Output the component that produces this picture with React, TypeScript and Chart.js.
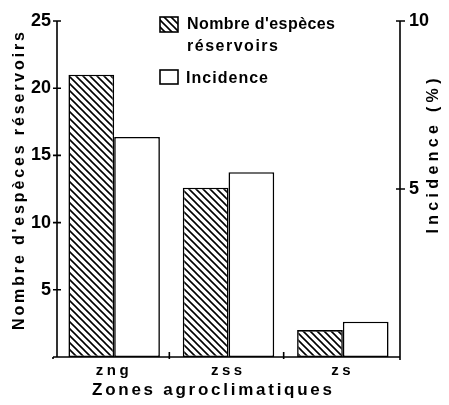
import React, { useEffect, useRef } from "react";
import { Chart, registerables } from "chart.js";

Chart.register(...registerables);

const categories = ["zng", "zss", "zs"];
const especesValues = [21, 12.6, 2];
const incidenceValues = [6.55, 5.5, 1.05];
const leftTickValues = [5, 10, 15, 20, 25];
const rightTickValues = [5, 10];
const leftTitle = "Nombre d'espèces réservoirs";
const rightTitle = "Incidence (%)";
const xTitle = "Zones agroclimatiques";
const legendLines1 = ["Nombre d'espèces", "réservoirs"];
const legendLine2 = "Incidence";

const FONT = "'Liberation Sans', Arial, Helvetica, sans-serif";

function makeHatch(): CanvasPattern | string {
  const c = document.createElement("canvas");
  const p = 7;
  c.width = p;
  c.height = p;
  const g = c.getContext("2d");
  if (!g) return "#fff";
  g.fillStyle = "#fff";
  g.fillRect(0, 0, p, p);
  g.strokeStyle = "#000";
  g.lineWidth = 1.6;
  g.beginPath();
  g.moveTo(-1, -1);
  g.lineTo(p + 1, p + 1);
  g.moveTo(-1, p - 1);
  g.lineTo(1, p + 1);
  g.moveTo(p - 1, -1);
  g.lineTo(p + 1, 1);
  g.stroke();
  const pat = g.createPattern(c, "repeat");
  return pat || "#fff";
}

function fitText(
  ctx: CanvasRenderingContext2D,
  text: string,
  x: number,
  y: number,
  font: string,
  width: number,
  align: "left" | "center"
) {
  ctx.save();
  ctx.font = font;
  (ctx as any).letterSpacing = "0px";
  const w0 = ctx.measureText(text).width;
  const n = Array.from(text).length;
  const sp = n > 1 ? (width - w0) / (n - 1) : 0;
  (ctx as any).letterSpacing = sp + "px";
  ctx.textAlign = "left";
  ctx.textBaseline = "alphabetic";
  ctx.fillStyle = "#000";
  const sx = align === "center" ? x - width / 2 : x;
  ctx.fillText(text, sx, y);
  ctx.restore();
}

function spacedText(
  ctx: CanvasRenderingContext2D,
  text: string,
  cx: number,
  y: number,
  font: string,
  sp: number
) {
  ctx.save();
  ctx.font = font;
  (ctx as any).letterSpacing = "0px";
  const w0 = ctx.measureText(text).width;
  const n = Array.from(text).length;
  const w = w0 + sp * (n - 1);
  (ctx as any).letterSpacing = sp + "px";
  ctx.textAlign = "left";
  ctx.textBaseline = "alphabetic";
  ctx.fillStyle = "#000";
  ctx.fillText(text, cx - w / 2, y);
  ctx.restore();
}

export default function App() {
  const ref = useRef<HTMLCanvasElement | null>(null);

  useEffect(() => {
    const canvas = ref.current;
    if (!canvas) return;
    const hatch = makeHatch();

    const decor = {
      id: "decor",
      afterDatasetsDraw(chart: any) {
        const ctx: CanvasRenderingContext2D = chart.ctx;
        const a = chart.chartArea;
        const yL = chart.scales.y;
        const yR = chart.scales.y2;
        const xs = chart.scales.x;
        const L = a.left;
        const R = a.right;
        const B = a.bottom;
        ctx.save();
        ctx.strokeStyle = "#000";
        ctx.lineWidth = 1.6;
        ctx.lineCap = "butt";
        ctx.beginPath();
        // axes
        ctx.moveTo(L, yL.getPixelForValue(25));
        ctx.lineTo(L, B);
        ctx.moveTo(R, yR.getPixelForValue(10));
        ctx.lineTo(R, B);
        ctx.moveTo(L - 4, B);
        ctx.lineTo(R, B);
        // left ticks
        leftTickValues.forEach((v) => {
          const py = yL.getPixelForValue(v);
          ctx.moveTo(L - 4, py);
          ctx.lineTo(L + 4, py);
        });
        rightTickValues.forEach((v) => {
          const py = yR.getPixelForValue(v);
          ctx.moveTo(R - 4, py);
          ctx.lineTo(R + 5, py);
        });
        // category boundary ticks
        for (let i = 0; i < categories.length - 1; i++) {
          const bx = (xs.getPixelForValue(i) + xs.getPixelForValue(i + 1)) / 2 - 2;
          ctx.moveTo(bx, B - 5);
          ctx.lineTo(bx, B + 2);
        }
        ctx.moveTo(R, B);
        ctx.lineTo(R, B + 3);
        ctx.moveTo(L - 4, B);
        ctx.lineTo(L - 4, B + 2);
        ctx.stroke();
        ctx.restore();

        // x category labels
        categories.forEach((c, i) => {
          spacedText(ctx, c, xs.getPixelForValue(i) - 2, 375, `bold 15px ${FONT}`, 3.5);
        });
        // x title
        fitText(ctx, xTitle, 212, 395, `bold 17px ${FONT}`, 240, "center");

        // left title (rotated)
        ctx.save();
        ctx.translate(24, 181);
        ctx.rotate(-Math.PI / 2);
        fitText(ctx, leftTitle, 0, 0, `bold 16px ${FONT}`, 298, "center");
        ctx.restore();
        // right title (rotated)
        ctx.save();
        ctx.translate(438, 156);
        ctx.rotate(-Math.PI / 2);
        fitText(ctx, rightTitle, 0, 0, `bold 16px ${FONT}`, 155, "center");
        ctx.restore();

        // legend
        ctx.save();
        ctx.lineWidth = 1.6;
        ctx.strokeStyle = "#000";
        ctx.fillStyle = hatch as any;
        ctx.fillRect(160, 17, 18, 15);
        ctx.strokeRect(160, 17, 18, 15);
        ctx.fillStyle = "#fff";
        ctx.fillRect(160, 70, 18, 14);
        ctx.strokeRect(160, 70, 18, 14);
        ctx.restore();
        fitText(ctx, legendLines1[0], 187, 29, `bold 16px ${FONT}`, 148, "left");
        fitText(ctx, legendLines1[1], 187, 51, `bold 16px ${FONT}`, 91, "left");
        fitText(ctx, legendLine2, 186, 83, `bold 16px ${FONT}`, 82, "left");
      },
    };

    const chart = new Chart(canvas, {
      type: "bar",
      data: {
        labels: categories,
        datasets: [
          {
            label: legendLines1.join(" "),
            data: especesValues,
            yAxisID: "y",
            backgroundColor: hatch as any,
            borderColor: "#000",
            borderWidth: 1.6,
            borderSkipped: false as any,
            categoryPercentage: 0.8,
            barPercentage: 1.0,
          },
          {
            label: legendLine2,
            data: incidenceValues,
            yAxisID: "y2",
            backgroundColor: "#fff",
            borderColor: "#000",
            borderWidth: 1.6,
            borderSkipped: false as any,
            categoryPercentage: 0.8,
            barPercentage: 1.0,
          },
        ],
      },
      options: {
        responsive: false,
        animation: false,
        devicePixelRatio: 1,
        layout: { padding: { top: 21, left: 0, right: 0, bottom: 0 } },
        plugins: {
          legend: { display: false },
          tooltip: { enabled: false },
          title: { display: false },
        },
        scales: {
          x: {
            grid: { display: false, drawTicks: false },
            border: { display: false },
            ticks: { display: false },
            afterFit: (s: any) => {
              s.height = 48;
            },
          },
          y: {
            position: "left",
            min: 0,
            max: 25,
            grid: { display: false, drawTicks: false },
            border: { display: false },
            ticks: {
              stepSize: 5,
              padding: 6,
              color: "#000",
              font: { family: FONT, size: 18, weight: "bold" },
              callback: (v: any) => (leftTickValues.includes(Number(v)) ? String(v) : ""),
            },
            afterFit: (s: any) => {
              s.width = 57;
            },
          },
          y2: {
            position: "right",
            min: 0,
            max: 10,
            grid: { display: false, drawTicks: false },
            border: { display: false },
            ticks: {
              stepSize: 5,
              padding: 9,
              color: "#000",
              font: { family: FONT, size: 18, weight: "bold" },
              callback: (v: any) => (rightTickValues.includes(Number(v)) ? String(v) : ""),
            },
            afterFit: (s: any) => {
              s.width = 49;
            },
          },
        },
      },
      plugins: [decor],
    });

    return () => {
      chart.destroy();
    };
  }, []);

  return (
    <div style={{ position: "absolute", left: 0, top: 0, width: 449, height: 405, background: "#fff" }}>
      <canvas ref={ref} width={449} height={405} style={{ width: 449, height: 405, display: "block" }} />
    </div>
  );
}
